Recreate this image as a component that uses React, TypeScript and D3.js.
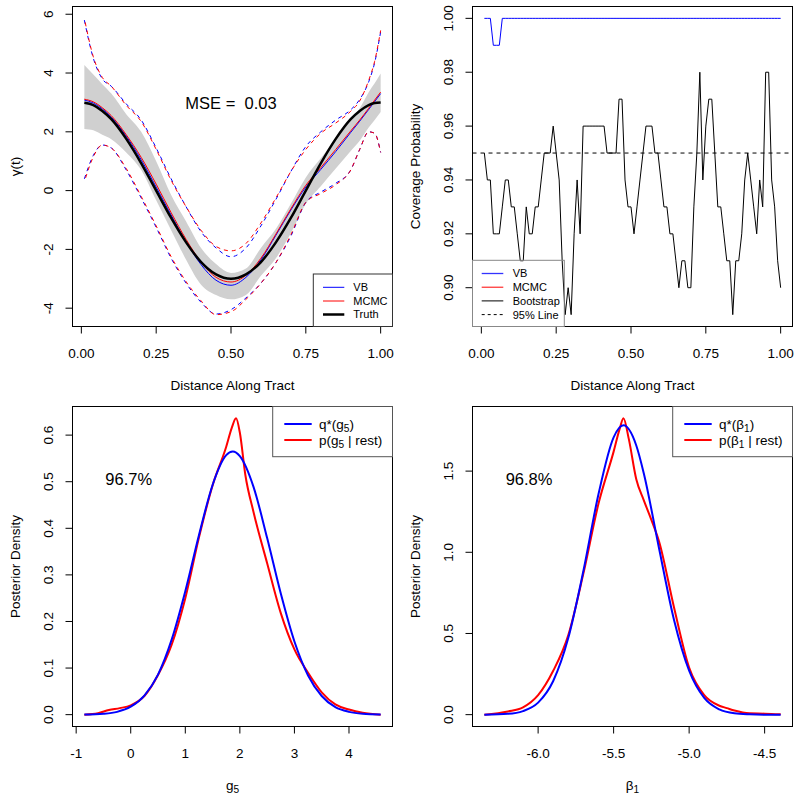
import React from "react";
import * as d3 from "d3";

// ---------- top-left: gamma(t) estimates ----------
const tGrid = [0.01, 0.04, 0.07, 0.1, 0.15, 0.2, 0.25, 0.3, 0.35, 0.4, 0.45, 0.5, 0.55, 0.6, 0.65, 0.7, 0.75, 0.8, 0.85, 0.9, 0.93, 0.96, 0.98, 1.0];
const truth = [2.99, 2.91, 2.71, 2.43, 1.76, 0.93, 0.0, -0.93, -1.76, -2.43, -2.85, -3.0, -2.85, -2.43, -1.76, -0.93, 0.0, 0.93, 1.76, 2.43, 2.71, 2.91, 2.98, 3.0];
const mcmcMean = [3.11, 3.02, 2.82, 2.55, 1.9, 1.13, 0.22, -0.75, -1.66, -2.43, -2.95, -3.11, -2.88, -2.3, -1.48, -0.62, 0.18, 0.78, 1.4, 2.03, 2.4, 2.8, 3.08, 3.35];
const vbMean = [3.08, 2.98, 2.78, 2.5, 1.85, 1.05, 0.12, -0.83, -1.74, -2.52, -3.05, -3.22, -2.95, -2.35, -1.52, -0.66, 0.12, 0.72, 1.33, 1.98, 2.36, 2.76, 3.03, 3.3];
const bandUpper = [4.27, 3.95, 3.62, 3.3, 2.6, 2.0, 1.0, -0.15, -1.05, -1.95, -2.5, -2.8, -2.65, -1.95, -1.3, -0.45, 0.45, 1.1, 1.75, 2.4, 2.8, 3.35, 3.65, 3.98];
const bandLower = [2.1, 2.05, 1.9, 1.75, 1.3, 0.7, -0.33, -1.35, -2.35, -3.2, -3.55, -3.7, -3.55, -2.9, -2.3, -1.45, -0.45, 0.15, 0.75, 1.35, 1.7, 2.15, 2.4, 2.67];
const mcmcUpper = [5.86, 4.55, 3.85, 3.55, 2.9, 2.35, 1.4, 0.35, -0.55, -1.35, -1.9, -2.05, -1.8, -1.1, -0.25, 0.65, 1.4, 1.95, 2.3, 2.7, 3.05, 3.75, 4.4, 5.45];
const vbUpper = [5.8, 4.5, 3.8, 3.55, 2.95, 2.4, 1.45, 0.4, -0.55, -1.4, -1.95, -2.25, -1.95, -1.2, -0.3, 0.65, 1.5, 2.0, 2.4, 2.75, 3.1, 3.7, 4.35, 5.4];
const mcmcLower = [0.3, 1.15, 1.55, 1.45, 0.75, -0.2, -1.2, -2.25, -3.1, -3.75, -4.22, -4.12, -3.7, -3.15, -2.45, -1.5, -0.4, -0.1, 0.2, 0.7, 1.4, 2.0, 1.95, 1.3];
const vbLower = [0.4, 1.2, 1.55, 1.45, 0.7, -0.25, -1.25, -2.3, -3.15, -3.8, -4.2, -4.05, -3.65, -3.15, -2.45, -1.55, -0.4, -0.05, 0.25, 0.7, 1.4, 2.0, 1.95, 1.3];
const mseLabel = "MSE =\u00a0 0.03";

// ---------- top-right: coverage probability ----------
const covT = d3.range(1, 101).map((i) => i / 100);
const vbCoverage = [
  1.0, 1.0, 1.0, 0.99, 0.99, 0.99, 1.0, 1.0, 1.0, 1.0,
  1.0, 1.0, 1.0, 1.0, 1.0, 1.0, 1.0, 1.0, 1.0, 1.0,
  1.0, 1.0, 1.0, 1.0, 1.0, 1.0, 1.0, 1.0, 1.0, 1.0,
  1.0, 1.0, 1.0, 1.0, 1.0, 1.0, 1.0, 1.0, 1.0, 1.0,
  1.0, 1.0, 1.0, 1.0, 1.0, 1.0, 1.0, 1.0, 1.0, 1.0,
  1.0, 1.0, 1.0, 1.0, 1.0, 1.0, 1.0, 1.0, 1.0, 1.0,
  1.0, 1.0, 1.0, 1.0, 1.0, 1.0, 1.0, 1.0, 1.0, 1.0,
  1.0, 1.0, 1.0, 1.0, 1.0, 1.0, 1.0, 1.0, 1.0, 1.0,
  1.0, 1.0, 1.0, 1.0, 1.0, 1.0, 1.0, 1.0, 1.0, 1.0,
  1.0, 1.0, 1.0, 1.0, 1.0, 1.0, 1.0, 1.0, 1.0, 1.0,
];
const bootCoverage = [
  0.95, 0.94, 0.94, 0.92, 0.92, 0.92, 0.93, 0.94, 0.94, 0.93,
  0.93, 0.92, 0.91, 0.91, 0.93, 0.92, 0.92, 0.93, 0.93, 0.94,
  0.95, 0.95, 0.95, 0.96, 0.95, 0.94, 0.91, 0.89, 0.9, 0.89,
  0.92, 0.94, 0.92, 0.96, 0.96, 0.96, 0.96, 0.96, 0.96, 0.96,
  0.96, 0.95, 0.95, 0.95, 0.95, 0.97, 0.97, 0.94, 0.93, 0.93,
  0.92, 0.93, 0.94, 0.95, 0.96, 0.96, 0.96, 0.95, 0.95, 0.94,
  0.93, 0.93, 0.92, 0.92, 0.91, 0.9, 0.91, 0.91, 0.9, 0.9,
  0.93, 0.95, 0.98, 0.94, 0.96, 0.97, 0.97, 0.95, 0.93, 0.93,
  0.92, 0.91, 0.91, 0.89, 0.91, 0.91, 0.92, 0.94, 0.95, 0.94,
  0.93, 0.92, 0.94, 0.93, 0.98, 0.98, 0.94, 0.93, 0.91, 0.9,
];
const nominalLevel = 0.95;

// ---------- bottom-left: g5 densities ----------
const g5GridQ = [-0.85, -0.5, -0.25, 0, 0.25, 0.5, 0.75, 1.0, 1.25, 1.5, 1.75, 1.87, 2.0, 2.25, 2.5, 2.75, 3.0, 3.25, 3.5, 3.75, 4.0, 4.25, 4.58];
const g5Q = [0.0003, 0.002, 0.006, 0.017, 0.041, 0.086, 0.161, 0.265, 0.385, 0.493, 0.557, 0.565, 0.555, 0.489, 0.379, 0.26, 0.157, 0.084, 0.04, 0.016, 0.006, 0.002, 0.0004];
const g5GridP = [-0.85, -0.6, -0.4, -0.2, 0, 0.25, 0.5, 0.75, 1.0, 1.25, 1.5, 1.75, 1.85, 1.93, 2.0, 2.1, 2.25, 2.5, 2.75, 3.0, 3.25, 3.5, 3.75, 4.0, 4.25, 4.58];
const g5P = [0.0, 0.003, 0.01, 0.014, 0.02, 0.04, 0.085, 0.15, 0.25, 0.38, 0.492, 0.575, 0.615, 0.636, 0.605, 0.515, 0.435, 0.325, 0.218, 0.14, 0.09, 0.048, 0.022, 0.011, 0.004, 0.0];
const g5Overlap = "96.7%";
const g5Ticks = [-1, 0, 1, 2, 3, 4];
const g5YTicks = [0, 0.1, 0.2, 0.3, 0.4, 0.5, 0.6];

// ---------- bottom-right: beta1 densities ----------
const b1GridQ = [-6.356, -6.2, -6.1, -6.0, -5.9, -5.8, -5.7, -5.6, -5.5, -5.435, -5.35, -5.3, -5.2, -5.1, -5.0, -4.9, -4.8, -4.7, -4.6, -4.5, -4.394];
const b1Q = [0.0, 0.005, 0.022, 0.074, 0.207, 0.473, 0.886, 1.359, 1.708, 1.782, 1.658, 1.486, 1.028, 0.583, 0.271, 0.103, 0.032, 0.008, 0.002, 0.0, 0.0];
const b1GridP = [-6.356, -6.2, -6.1, -6.0, -5.9, -5.8, -5.7, -5.6, -5.5, -5.46, -5.435, -5.4, -5.35, -5.3, -5.25, -5.2, -5.1, -5.0, -4.9, -4.8, -4.75, -4.7, -4.6, -4.5, -4.394];
const b1P = [0.0, 0.02, 0.045, 0.12, 0.27, 0.49, 0.87, 1.3, 1.62, 1.76, 1.825, 1.7, 1.45, 1.32, 1.2, 1.07, 0.66, 0.29, 0.12, 0.055, 0.04, 0.025, 0.008, 0.006, 0.002];
const b1Overlap = "96.8%";
const b1Ticks = [-6.0, -5.5, -5.0, -4.5];
const b1YTicks = [0, 0.5, 1.0, 1.5];

const FONT = "'Liberation Sans', Arial, Helvetica, sans-serif";
const SIZE = 320;

// R pads each axis range by 4%
function rPad(lo: number, hi: number): [number, number] {
  const p = (hi - lo) * 0.04;
  return [lo - p, hi + p];
}

function smoothPath(xs: number[], ys: number[], x: any, y: any, curve: any = d3.curveMonotoneX) {
  return d3
    .line<number>()
    .x((_, i) => x(xs[i]))
    .y((d) => y(d))
    .curve(curve)(ys) as string;
}

function Axes({ left, top, x, y, xTicks, yTicks, xFmt, yFmt, xTitle, yTitle }: any) {
  const bottom = top + SIZE;
  return (
    <g fontFamily={FONT} fontSize={13.5} fill="#000">
      <rect x={left} y={top} width={SIZE} height={SIZE} fill="none" stroke="#000" />
      {xTicks.map((t: number) => (
        <g key={"x" + t}>
          <line x1={x(t)} x2={x(t)} y1={bottom} y2={bottom + 7} stroke="#000" />
          <text x={x(t)} y={bottom + 31} textAnchor="middle">
            {xFmt(t)}
          </text>
        </g>
      ))}
      {yTicks.map((t: number) => (
        <g key={"y" + t}>
          <line x1={left - 7} x2={left} y1={y(t)} y2={y(t)} stroke="#000" />
          <text transform={`translate(${left - 19.5},${y(t)}) rotate(-90)`} textAnchor="middle">
            {yFmt(t)}
          </text>
        </g>
      ))}
      <text x={left + SIZE / 2} y={bottom + 63.5} textAnchor="middle">
        {xTitle}
      </text>
      <text transform={`translate(${left - 52.5},${top + SIZE / 2}) rotate(-90)`} textAnchor="middle">
        {yTitle}
      </text>
    </g>
  );
}

function Legend({ x0, y0, w, h, rows, lx1, lx2, tx, fontSize, border, entries }: any) {
  return (
    <g fontFamily={FONT} fontSize={fontSize}>
      <rect x={x0} y={y0} width={w} height={h} fill="none" stroke={border} />
      {entries.map((e: any, i: number) => (
        <g key={i}>
          <line x1={lx1} x2={lx2} y1={rows[i]} y2={rows[i]} stroke={e.color} strokeWidth={e.width} strokeDasharray={e.dash} />
          <text x={tx} y={rows[i] + fontSize * 0.36} fill="#000">
            {e.label}
          </text>
        </g>
      ))}
    </g>
  );
}

// base symbol with a subscript, optionally followed by more text on the baseline
function withSub(base: string, s: string, after?: string) {
  return (
    <>
      {base}
      <tspan dy={3} fontSize="75%">
        {s}
      </tspan>
      {after ? <tspan dy={-3}>{after}</tspan> : null}
    </>
  );
}

export default function App() {
  // ----- top-left -----
  const tlL = 72.5, tlT = 6.5;
  const xTL = d3.scaleLinear().domain(rPad(0.01, 1.0)).range([tlL, tlL + SIZE]);
  const allTL = [...mcmcUpper, ...vbUpper, ...mcmcLower, ...vbLower];
  const yTL = d3.scaleLinear().domain(rPad(d3.min(allTL)!, d3.max(allTL)!)).range([tlT + SIZE, tlT]);
  const band = d3
    .area<number>()
    .x((_, i) => xTL(tGrid[i]))
    .y0((_, i) => yTL(bandLower[i]))
    .y1((d) => yTL(d))
    .curve(d3.curveMonotoneX)(bandUpper) as string;

  // ----- top-right -----
  const trL = 472.5, trT = 6.5;
  const xTR = d3.scaleLinear().domain(rPad(0.01, 1.0)).range([trL, trL + SIZE]);
  const yTR = d3
    .scaleLinear()
    .domain(rPad(d3.min(bootCoverage)!, d3.max(vbCoverage)!))
    .range([trT + SIZE, trT]);

  // ----- bottom-left -----
  const blL = 72.5, blT = 406.5;
  const xBL = d3.scaleLinear().domain(rPad(g5GridQ[0], g5GridQ[g5GridQ.length - 1])).range([blL, blL + SIZE]);
  const yBL = d3.scaleLinear().domain(rPad(0, d3.max(g5P)!)).range([blT + SIZE, blT]);

  // ----- bottom-right -----
  const brL = 472.5, brT = 406.5;
  const xBR = d3.scaleLinear().domain(rPad(b1GridQ[0], b1GridQ[b1GridQ.length - 1])).range([brL, brL + SIZE]);
  const yBR = d3.scaleLinear().domain(rPad(0, d3.max(b1P)!)).range([brT + SIZE, brT]);

  const tFmt = (v: number) => v.toFixed(2);

  return (
    <svg width={800} height={800} style={{ position: "absolute", left: 0, top: 0, background: "#fff" }}>
      <rect width={800} height={800} fill="#fff" />

      {/* top-left panel */}
      <path d={band} fill="#d0d0d0" stroke="none" />
      <path d={smoothPath(tGrid, vbUpper, xTL, yTL)} fill="none" stroke="#0000ff" strokeDasharray="4,4" />
      <path d={smoothPath(tGrid, vbLower, xTL, yTL)} fill="none" stroke="#0000ff" strokeDasharray="4,4" />
      <path d={smoothPath(tGrid, mcmcUpper, xTL, yTL)} fill="none" stroke="#ff0000" strokeDasharray="4,4" strokeDashoffset={4} />
      <path d={smoothPath(tGrid, mcmcLower, xTL, yTL)} fill="none" stroke="#ff0000" strokeDasharray="4,4" strokeDashoffset={4} />
      <path d={smoothPath(tGrid, vbMean, xTL, yTL)} fill="none" stroke="#0000ff" strokeWidth={1} />
      <path d={smoothPath(tGrid, mcmcMean, xTL, yTL)} fill="none" stroke="#ff0000" strokeWidth={1} />
      <path d={smoothPath(tGrid, truth, xTL, yTL)} fill="none" stroke="#000" strokeWidth={2.5} />
      <text x={xTL(0.5)} y={108.8} textAnchor="middle" fontFamily={FONT} fontSize={16.5}>
        {mseLabel}
      </text>
      <Axes
        left={tlL}
        top={tlT}
        x={xTL}
        y={yTL}
        xTicks={[0, 0.25, 0.5, 0.75, 1]}
        yTicks={[-4, -2, 0, 2, 4, 6]}
        xFmt={tFmt}
        yFmt={(v: number) => String(v)}
        xTitle="Distance Along Tract"
        yTitle="γ(t)"
      />
      <Legend
        x0={tlL + SIZE - 79.2}
        y0={274}
        w={79.2}
        h={tlT + SIZE - 274}
        rows={[287.3, 301, 314.5]}
        lx1={323}
        lx2={344.3}
        tx={353.3}
        fontSize={11}
        border="#333"
        entries={[
          { label: "VB", color: "#0000ff", width: 1 },
          { label: "MCMC", color: "#ff0000", width: 1 },
          { label: "Truth", color: "#000", width: 2.5 },
        ]}
      />

      {/* top-right panel */}
      <line x1={trL} x2={trL + SIZE} y1={yTR(nominalLevel)} y2={yTR(nominalLevel)} stroke="#000" strokeDasharray="4,4" />
      <path d={smoothPath(covT, bootCoverage, xTR, yTR, d3.curveLinear)} fill="none" stroke="#000" />
      <path d={smoothPath(covT, vbCoverage, xTR, yTR, d3.curveLinear)} fill="none" stroke="#0000ff" />
      <Axes
        left={trL}
        top={trT}
        x={xTR}
        y={yTR}
        xTicks={[0, 0.25, 0.5, 0.75, 1]}
        yTicks={[0.9, 0.92, 0.94, 0.96, 0.98, 1.0]}
        xFmt={tFmt}
        yFmt={tFmt}
        xTitle="Distance Along Tract"
        yTitle="Coverage Probability"
      />
      <Legend
        x0={trL}
        y0={260.3}
        w={91.8}
        h={trT + SIZE - 260.3}
        rows={[273.5, 287.2, 300.9, 314.6]}
        lx1={481.7}
        lx2={503.3}
        tx={512.7}
        fontSize={11}
        border="#888"
        entries={[
          { label: "VB", color: "#3333ff", width: 1.3 },
          { label: "MCMC", color: "#ff0000", width: 1 },
          { label: "Bootstrap", color: "#000", width: 1 },
          { label: "95% Line", color: "#000", width: 1, dash: "3,3" },
        ]}
      />

      {/* bottom-left panel */}
      <path d={smoothPath(g5GridP, g5P, xBL, yBL)} fill="none" stroke="#ff0000" strokeWidth={2} />
      <path d={smoothPath(g5GridQ, g5Q, xBL, yBL)} fill="none" stroke="#0000ff" strokeWidth={2} />
      <text x={105.3} y={485} fontFamily={FONT} fontSize={16.5}>
        {g5Overlap}
      </text>
      <Axes
        left={blL}
        top={blT}
        x={xBL}
        y={yBL}
        xTicks={g5Ticks}
        yTicks={g5YTicks}
        xFmt={(v: number) => String(v)}
        yFmt={(v: number) => v.toFixed(1)}
        xTitle={withSub("g", "5")}
        yTitle="Posterior Density"
      />
      <Legend
        x0={blL + SIZE - 119.8}
        y0={blT}
        w={119.8}
        h={50.2}
        rows={[424, 440]}
        lx1={284.3}
        lx2={311.7}
        tx={319}
        fontSize={13.5}
        border="#555"
        entries={[
          { label: withSub("q*(g", "5", ")"), color: "#0000ff", width: 2 },
          { label: withSub("p(g", "5", " | rest)"), color: "#ff0000", width: 2 },
        ]}
      />

      {/* bottom-right panel */}
      <path d={smoothPath(b1GridP, b1P, xBR, yBR)} fill="none" stroke="#ff0000" strokeWidth={2} />
      <path d={smoothPath(b1GridQ, b1Q, xBR, yBR)} fill="none" stroke="#0000ff" strokeWidth={2} />
      <text x={505.7} y={485} fontFamily={FONT} fontSize={16.5}>
        {b1Overlap}
      </text>
      <Axes
        left={brL}
        top={brT}
        x={xBR}
        y={yBR}
        xTicks={b1Ticks}
        yTicks={b1YTicks}
        xFmt={(v: number) => v.toFixed(1)}
        yFmt={(v: number) => v.toFixed(1)}
        xTitle={withSub("β", "1")}
        yTitle="Posterior Density"
      />
      <Legend
        x0={brL + SIZE - 119.8}
        y0={brT}
        w={119.8}
        h={50.2}
        rows={[424, 440]}
        lx1={684.3}
        lx2={711.7}
        tx={719}
        fontSize={13.5}
        border="#555"
        entries={[
          { label: withSub("q*(β", "1", ")"), color: "#0000ff", width: 2 },
          { label: withSub("p(β", "1", " | rest)"), color: "#ff0000", width: 2 },
        ]}
      />
    </svg>
  );
}
